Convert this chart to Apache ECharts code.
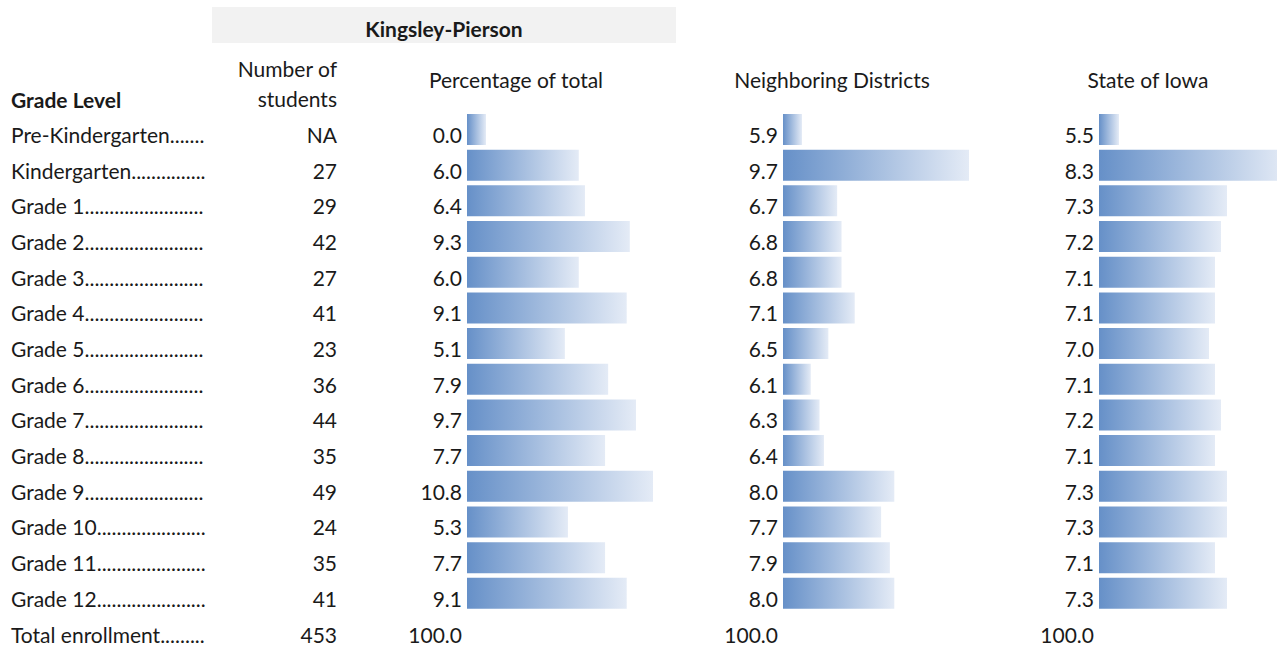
<!DOCTYPE html>
<html><head><meta charset="utf-8">
<script src="https://cdn.jsdelivr.net/npm/echarts@6/dist/echarts.min.js"></script>
<style>html,body{margin:0;padding:0;background:#fff}#c{width:1277px;height:647px}</style>
</head><body><div id="c"></div>
<script>
const grades = ['Pre-Kindergarten','Kindergarten','Grade 1','Grade 2','Grade 3','Grade 4','Grade 5','Grade 6','Grade 7','Grade 8','Grade 9','Grade 10','Grade 11','Grade 12'];
const students = ['NA',27,29,42,27,41,23,36,44,35,49,24,35,41];
const pctTotal = [0.0,6.0,6.4,9.3,6.0,9.1,5.1,7.9,9.7,7.7,10.8,5.3,7.7,9.1];
const neighbor = [5.9,9.7,6.7,6.8,6.8,7.1,6.5,6.1,6.3,6.4,8.0,7.7,7.9,8.0];
const iowa = [5.5,8.3,7.3,7.2,7.1,7.1,7.0,7.1,7.2,7.1,7.3,7.3,7.1,7.3];
const totalLabel = 'Total enrollment';
const totalStudents = 453;
const totalPct = [100.0,100.0,100.0];
const headers = {district:'Kingsley-Pierson', grade:'Grade Level', num:['Number of','students'], pct:'Percentage of total', nb:'Neighboring Districts', ia:'State of Iowa'};

const FONT = 'Lato';
const FS = 21;
const TXT = '#1a1a1a';
const cats = grades.concat([totalLabel]);
const rowH = 35.68;
const gTop = 129.5 - rowH/2;
const gH = rowH * cats.length;

const grad = () => new echarts.graphic.LinearGradient(0,0,1,0,[{offset:0,color:'#6690C8'},{offset:1,color:'#E4EBF6'}]);

const grids = [
  {left:11, top:gTop, width:200, height:gH},
  {left:340, top:gTop, width:1, height:gH},
  {left:467, top:gTop, width:186, height:gH},
  {left:783, top:gTop, width:186, height:gH},
  {left:1099, top:gTop, width:178, height:gH}
];
// axis ranges (bar base at axis min, Excel-style data bars)
const axMin = [-1.229, 5.468, 5.167];
const axMax = [10.8, 9.7, 8.133];
const vals = [pctTotal, neighbor, iowa];

function yAx(gi, labelOpt){
  return {
    type:'category', gridIndex:gi, data:cats, inverse:true,
    axisLine:{show:false}, axisTick:{show:false}, splitLine:{show:false},
    axisLabel:Object.assign({color:TXT, fontFamily:FONT, fontSize:FS, margin:5, interval:0, verticalAlign:'top', lineHeight:10}, labelOpt)
  };
}
const dots = '..............................';
const yAxis = [
  yAx(0, {inside:true, margin:0, width:196, overflow:'truncate', ellipsis:'', formatter:(v)=>v+dots}),
  yAx(1, {margin:3, formatter:(v,i)=> i<students.length ? String(students[i]) : String(totalStudents)})
];
for (let k=0;k<3;k++){
  yAxis.push(yAx(2+k, {formatter:(v,i)=> i<vals[k].length ? vals[k][i].toFixed(1) : totalPct[k].toFixed(1)}));
}
const xAxis = [];
for (let g=0; g<5; g++){
  const a = {type:'value', gridIndex:g, show:false};
  if (g>=2){ a.min = axMin[g-2]; a.max = axMax[g-2]; }
  xAxis.push(a);
}
const series = [];
for (let k=0;k<3;k++){
  series.push({
    type:'custom', xAxisIndex:2+k, yAxisIndex:2+k, silent:true, animation:false, clip:true,
    encode:{x:0, y:1},
    data: vals[k].map((v,i)=>[v,i]),
    renderItem:(params, api)=>{
      const s = api.coord([axMin[k], api.value(1)]);
      const e = api.coord([api.value(0), api.value(1)]);
      const h = 31;
      return {type:'rect', shape:{x:s[0], y:s[1]-h/2, width:e[0]-s[0], height:h}, style:{fill:grad()}};
    }
  });
}

const t = (x,y,text,align,bold) => ({type:'text', x:x, y:y, style:{text:text, fill:TXT, font:(bold?'bold ':'')+FS+'px '+FONT, align:align||'left', verticalAlign:'middle'}});
const graphic = [
  {type:'rect', shape:{x:212,y:7,width:464,height:36}, style:{fill:'#F2F2F2'}, z:-1},
  t(444,28,headers.district,'center',true),
  t(11,99,headers.grade,'left',true),
  t(337,68,headers.num[0],'right'),
  t(337,98,headers.num[1],'right'),
  t(516,79,headers.pct,'center'),
  t(832,79,headers.nb,'center'),
  t(1148,79,headers.ia,'center')
];

const chart = echarts.init(document.getElementById('c'), null, {renderer:'svg'});
chart.setOption({animation:false, grid:grids, xAxis:xAxis, yAxis:yAxis, series:series, graphic:graphic});
</script></body></html>
